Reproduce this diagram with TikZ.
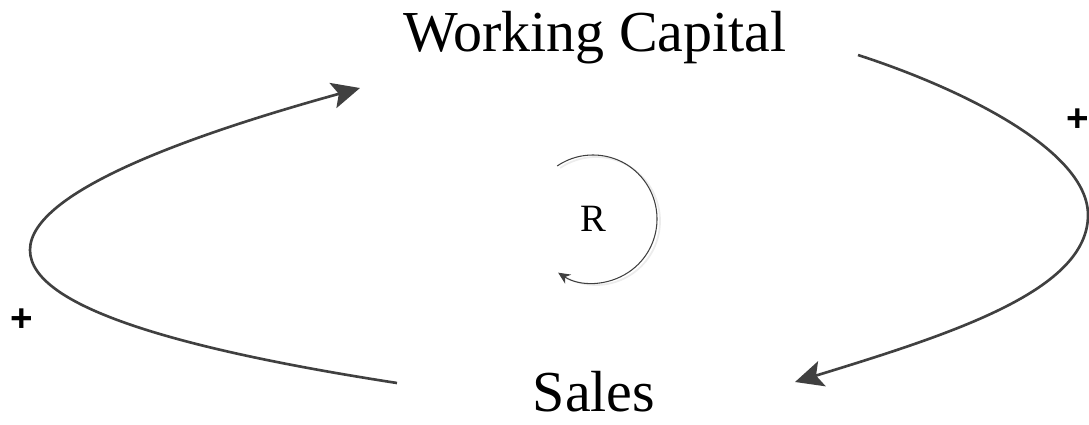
\documentclass[tikz,border=0pt]{standalone}
\usepackage{fontspec}
\setmainfont{Liberation Serif}
\setsansfont{Liberation Sans}
\usepackage{xcolor}
\usetikzlibrary{arrows.meta,positioning,calc}

\definecolor{linegray}{HTML}{404040}
\tikzset{
  var/.style={inner sep=0pt, font=\fontsize{33}{36}\selectfont},
  sign/.style={inner sep=0pt, font=\sffamily\bfseries\fontsize{22}{24}\selectfont},
  link/.style={draw=linegray, line width=1.5pt, -{Stealth[length=5.6mm,width=5.2mm,inset=1.2mm]}},
  loopline/.style={draw=linegray, line width=0.6pt, -{Stealth[length=2.4mm,width=2.2mm]}}
}

\begin{document}
\begin{tikzpicture}[x=0.02cm, y=-0.02cm]
  \useasboundingbox (0,0) rectangle (1089,424);
  % variables
  \node[var] (wc) at (595,38) {Working Capital};
  \node[var] (sales) at (594,392) {Sales};
  \node[inner sep=0pt, font=\fontsize{22}{24}\selectfont] (R) at (593,219) {R};
  % polarity signs
  \node[sign] (pL) at (22,320) {+};
  \node[sign] (pR) at (1078,120) {+};
  % free ends of the links
  \coordinate (wcOut) at (858,55);
  \coordinate (salesIn) at (795,382);
  \coordinate (salesOut) at (397,383);
  \coordinate (wcIn) at (360,88);
  % links
  \draw[link] (wcOut) .. controls (960,88) and (1088,150) .. (1088,215)
    .. controls (1088,290) and (955,333) .. (salesIn);
  \draw[link] (salesOut) .. controls (197,352) and (30,310) .. (30,250)
    .. controls (30,190) and (201,132) .. (wcIn);
  % loop marker
  \draw[gray!15, line width=1pt] ($(R)+(3,2)$) ++(-124:64) arc[start angle=-124, end angle=118, radius=64];
  \draw[loopline] (R) ++(-124:64) arc[start angle=-124, end angle=123, radius=64];
\end{tikzpicture}
\end{document}
